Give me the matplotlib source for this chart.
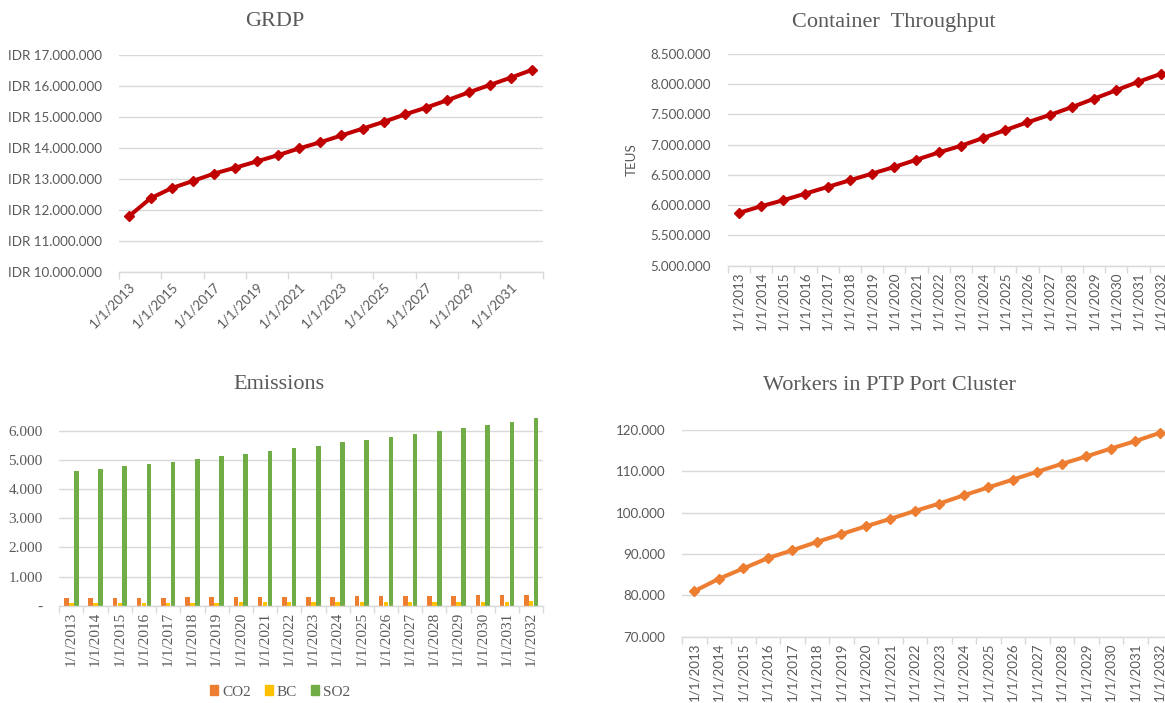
import matplotlib
matplotlib.use("Agg")
import matplotlib.pyplot as plt
import numpy as np
from matplotlib.ticker import FuncFormatter, FixedLocator, NullFormatter
from matplotlib.patches import Patch

# ---------------- data ----------------
years = list(range(2013, 2033))
date_labels = [f"1/1/{y}" for y in years]

grdp = [11.80e6, 12.37e6, 12.70e6, 12.93e6, 13.17e6, 13.36e6, 13.56e6, 13.76e6,
        13.98e6, 14.18e6, 14.40e6, 14.62e6, 14.84e6, 15.08e6, 15.30e6, 15.54e6,
        15.79e6, 16.03e6, 16.27e6, 16.52e6]

container = [5.87e6, 5.98e6, 6.08e6, 6.19e6, 6.30e6, 6.41e6, 6.52e6, 6.63e6,
             6.75e6, 6.87e6, 6.98e6, 7.11e6, 7.24e6, 7.37e6, 7.49e6, 7.62e6,
             7.76e6, 7.90e6, 8.04e6, 8.17e6]

co2 = [255, 260, 270, 275, 280, 285, 290, 295, 300, 305,
       310, 315, 320, 325, 330, 335, 345, 350, 360, 370]
bc = [95, 97, 99, 101, 103, 105, 108, 110, 112, 115,
      117, 120, 122, 125, 128, 130, 133, 136, 140, 145]
so2 = [4620, 4700, 4780, 4860, 4940, 5020, 5130, 5210, 5300, 5410,
       5490, 5600, 5680, 5780, 5900, 5990, 6090, 6200, 6310, 6420]

workers = [81.0e3, 84.0e3, 86.5e3, 89.0e3, 90.9e3, 92.9e3, 94.8e3, 96.7e3,
           98.5e3, 100.4e3, 102.2e3, 104.2e3, 106.1e3, 108.0e3, 109.9e3,
           111.8e3, 113.6e3, 115.5e3, 117.3e3, 119.3e3]

# ---------------- style ----------------
W, H = 1165, 703
GRID = "#D9D9D9"
TXT = "#595959"
RED = "#C00000"
ORANGE = "#ED7D31"
YELLOW = "#FFC000"
GREEN = "#70AD47"
SANS = "Lato"
SERIF = "Liberation Serif"
SANS_SIZE = 9.6
SERIF_SIZE = 11

fig = plt.figure(figsize=(W / 100, H / 100), dpi=100)


def ax_px(left, right, top, bottom):
    return fig.add_axes([left / W, 1 - bottom / H, (right - left) / W, (bottom - top) / H])


def dot_fmt(prefix="", dash_zero=False):
    def f(v, pos):
        if dash_zero and abs(v) < 1e-9:
            return "-"
        return prefix + f"{int(round(v)):,}".replace(",", ".")
    return FuncFormatter(f)


idx = np.arange(len(years))
axis_fonts = []


def style(ax, font, size, tick_every, label_every, rotation, yticks, fmt):
    ax.set_xlim(-0.5, len(years) - 0.5)
    for s in ["top", "right", "left"]:
        ax.spines[s].set_visible(False)
    ax.spines["bottom"].set_color(GRID)
    ax.spines["bottom"].set_linewidth(1)
    ax.grid(axis="y", color=GRID, lw=1)
    ax.set_axisbelow(True)
    ax.set_yticks(yticks)
    ax.yaxis.set_major_formatter(fmt)
    ax.tick_params(axis="y", length=0, pad=12, labelcolor=TXT)
    ax.xaxis.set_major_locator(FixedLocator(np.arange(-0.5, len(years), tick_every)))
    ax.xaxis.set_major_formatter(NullFormatter())
    ax.tick_params(axis="x", which="major", length=5, color=GRID, width=1)
    pos = idx[::label_every]
    labs = [date_labels[i] for i in pos]
    if rotation == 45:
        ax.set_xticks(pos, labs, minor=True, rotation=45, ha="right", va="top",
                      rotation_mode="anchor")
        ax.tick_params(axis="x", which="minor", length=0, pad=6)
    else:
        ax.set_xticks(pos, labs, minor=True, rotation=90, ha="center", va="top")
        ax.tick_params(axis="x", which="minor", length=0, pad=4)
    ax.tick_params(axis="both", which="both", labelsize=size, labelcolor=TXT)
    axis_fonts.append((ax, font, size))


# ---------------- GRDP ----------------
ax1 = ax_px(118.7, 542.7, 55, 271.7)
ax1.plot(idx, grdp, color=RED, lw=2.9, marker="D", ms=5.5, clip_on=False, zorder=3)
ax1.set_ylim(10e6, 17e6)
style(ax1, SANS, SANS_SIZE, 2, 2, 45, np.arange(10e6, 17.5e6, 1e6), dot_fmt("IDR "))
fig.text(275 / W, 1 - 22 / H, "GRDP", ha="center", va="center",
         fontfamily=SERIF, fontsize=16, color=TXT)

# ---------------- Container ----------------
ax2 = ax_px(727.7, 1171.7, 54, 265.5)
ax2.plot(idx, container, color=RED, lw=2.9, marker="D", ms=5.5, clip_on=False, zorder=3)
ax2.set_ylim(5e6, 8.5e6)
style(ax2, SANS, SANS_SIZE, 1, 1, 90, np.arange(5e6, 8.6e6, 5e5), dot_fmt())
fig.text(894 / W, 1 - 22 / H, "Container  Throughput", ha="center", va="center",
         fontfamily=SERIF, fontsize=16, color=TXT)
fig.text(631.7 / W, 1 - 160 / H, "TEUS", rotation=90, ha="center", va="center",
         fontfamily=SANS, fontsize=SANS_SIZE, color=TXT)

# ---------------- Emissions ----------------
ax3 = ax_px(59.3, 543.3, 605.7 - 6600 * 0.02916, 605.7)
bw = 0.19
ax3.bar(idx - 0.2, co2, width=bw, color=ORANGE, label="CO2")
ax3.bar(idx, bc, width=bw, color=YELLOW, label="BC")
ax3.bar(idx + 0.2, so2, width=bw, color=GREEN, label="SO2")
ax3.set_ylim(0, 6600)
style(ax3, SERIF, SERIF_SIZE, 1, 1, 90, np.arange(0, 6001, 1000), dot_fmt(dash_zero=True))
fig.text(279 / W, 1 - 384 / H, "Emissions", ha="center", va="center",
         fontfamily=SERIF, fontsize=16, color=TXT)
handles = [Patch(color=ORANGE, label="CO2"), Patch(color=YELLOW, label="BC"),
           Patch(color=GREEN, label="SO2")]
fig.legend(handles=handles, loc="center", bbox_to_anchor=(280 / W, 1 - 692 / H),
           ncol=3, frameon=False, handlelength=0.55, handleheight=0.55,
           handletextpad=0.25, columnspacing=0.9,
           prop={"family": SERIF, "size": SERIF_SIZE}, labelcolor=TXT)

# ---------------- Workers ----------------
ax4 = ax_px(682, 1172, 430, 636.7)
ax4.plot(idx, workers, color=ORANGE, lw=2.9, marker="D", ms=5.5, clip_on=False, zorder=3)
ax4.set_ylim(70e3, 120e3)
style(ax4, SANS, SANS_SIZE, 1, 1, 90, np.arange(70e3, 120.1e3, 10e3), dot_fmt())
fig.text(889 / W, 1 - 386 / H, "Workers in PTP Port Cluster", ha="center", va="center",
         fontfamily=SERIF, fontsize=16, color=TXT)

# apply per-axes tick label fonts after ticks have been created
fig.canvas.draw()
for ax, font, size in axis_fonts:
    labels = (ax.get_xticklabels(minor=True) + ax.get_yticklabels())
    for lab in labels:
        lab.set_fontfamily(font)
        lab.set_fontsize(size)

fig.savefig("out.png", dpi=100)
